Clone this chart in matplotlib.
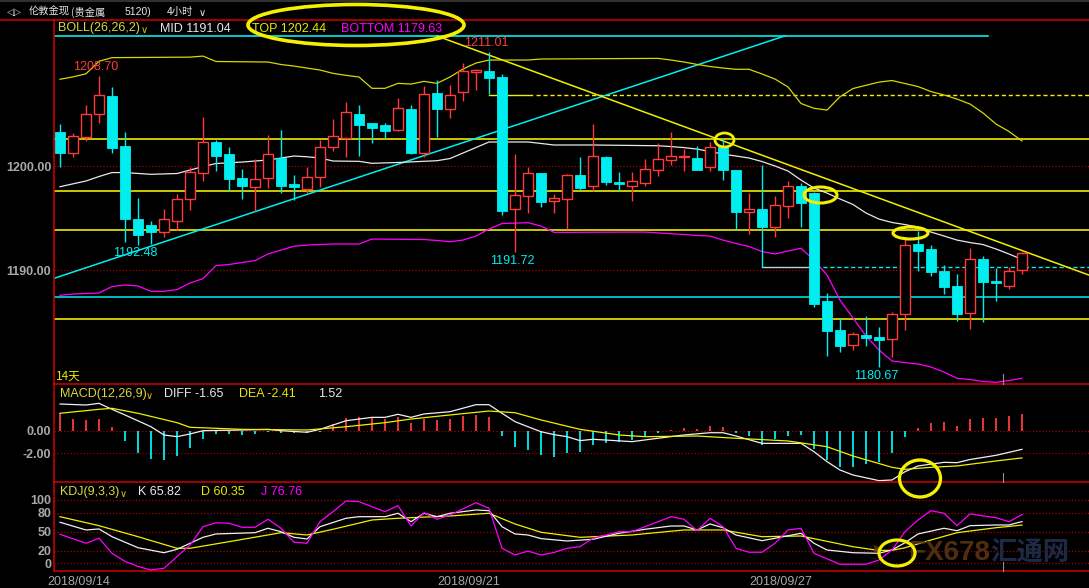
import numpy as np
import matplotlib.pyplot as plt
from matplotlib.patches import Ellipse
from matplotlib.lines import Line2D

plt.rcParams['font.family'] = ['Liberation Sans', 'DejaVu Sans']

# ---------------- data ----------------
# 4h candles, 2018/09/14 .. 2018/10/02
opens = [1203.30, 1201.25, 1202.85, 1205.00, 1206.76, 1201.95, 1194.93, 1194.36, 1193.71, 1194.77,
         1196.83, 1199.33, 1202.31, 1201.15, 1198.88, 1198.04, 1198.85, 1200.80, 1198.30, 1197.85,
         1198.94, 1201.88, 1202.75, 1205.03, 1204.16, 1203.97, 1203.52, 1205.51, 1201.31, 1207.05,
         1205.51, 1207.17, 1209.07, 1209.16, 1208.59, 1195.87, 1197.12, 1199.36, 1196.63, 1196.83,
         1199.16, 1198.08, 1200.89, 1198.49, 1198.13, 1198.42, 1199.67, 1200.63, 1200.92, 1200.80,
         1199.96, 1201.88, 1199.64, 1195.63, 1195.89, 1194.19, 1196.21, 1198.11, 1197.40, 1187.05,
         1184.26, 1182.82, 1183.78, 1183.59, 1183.42, 1185.77, 1192.53, 1192.05, 1189.93, 1188.49,
         1185.87, 1191.09, 1189.02, 1188.52, 1190.03]
highs = [1204.07, 1203.17, 1205.89, 1208.70, 1207.60, 1203.30, 1196.95, 1194.74, 1195.89, 1197.34,
         1199.96, 1204.71, 1202.53, 1201.83, 1199.71, 1200.67, 1202.98, 1203.49, 1199.16, 1199.90,
         1202.53, 1204.55, 1206.18, 1205.89, 1204.20, 1204.16, 1206.54, 1205.89, 1207.75, 1208.30,
         1207.82, 1209.93, 1209.33, 1211.01, 1208.88, 1201.18, 1199.96, 1199.40, 1197.31, 1199.23,
         1200.89, 1204.04, 1200.99, 1199.42, 1199.42, 1200.67, 1202.21, 1203.27, 1201.63, 1201.92,
         1202.31, 1202.60, 1199.64, 1197.40, 1200.13, 1197.14, 1198.59, 1198.37, 1197.56, 1187.85,
         1185.44, 1184.10, 1185.60, 1184.55, 1185.99, 1193.20, 1193.81, 1192.43, 1190.51, 1189.64,
         1192.14, 1191.38, 1190.19, 1190.29, 1191.76]
lows = [1199.96, 1200.87, 1202.46, 1204.19, 1201.25, 1192.75, 1192.48, 1192.55, 1193.23, 1193.88,
        1195.80, 1198.62, 1199.58, 1197.63, 1196.83, 1195.67, 1197.94, 1197.46, 1196.76, 1197.46,
        1198.04, 1201.50, 1200.92, 1201.02, 1202.27, 1202.69, 1203.39, 1201.15, 1200.92, 1202.82,
        1204.64, 1206.28, 1207.34, 1206.95, 1195.32, 1191.72, 1195.48, 1196.06, 1195.48, 1194.00,
        1197.75, 1197.63, 1198.20, 1197.63, 1196.69, 1198.13, 1199.10, 1200.15, 1199.58, 1199.67,
        1199.58, 1198.71, 1194.00, 1193.52, 1190.35, 1193.23, 1195.00, 1194.19, 1186.50, 1181.76,
        1182.17, 1182.34, 1182.72, 1180.67, 1181.69, 1184.26, 1189.98, 1189.45, 1187.72, 1185.15,
        1184.38, 1185.06, 1187.08, 1188.17, 1189.60]
closes = [1201.31, 1202.88, 1205.00, 1206.83, 1201.79, 1194.93, 1193.42, 1193.71, 1194.90, 1196.83,
          1199.45, 1202.31, 1201.02, 1198.81, 1198.13, 1198.75, 1201.15, 1198.13, 1198.04, 1198.94,
          1201.83, 1202.88, 1205.22, 1203.97, 1203.68, 1203.42, 1205.58, 1201.25, 1206.95, 1205.51,
          1206.86, 1209.13, 1209.26, 1208.52, 1195.73, 1197.21, 1199.33, 1196.60, 1196.92, 1199.16,
          1197.94, 1200.96, 1198.52, 1198.27, 1198.56, 1199.71, 1200.67, 1200.96, 1200.96, 1199.67,
          1201.83, 1199.67, 1195.63, 1195.87, 1194.19, 1196.25, 1198.11, 1196.50, 1186.75, 1184.16,
          1182.72, 1183.88, 1183.52, 1183.33, 1185.80, 1192.40, 1191.88, 1189.87, 1188.42, 1185.83,
          1191.09, 1188.90, 1188.75, 1189.93, 1191.63]

# Bollinger bands (candle index, value)
boll_up_i = [0, 1, 2, 3, 4, 10, 11, 12, 16, 17, 18, 20, 21, 22, 23, 24, 25, 26, 27, 28, 29, 30, 31, 32, 33,
             36, 37, 46, 47, 48, 49, 50, 51, 52, 53, 54, 55, 56, 57, 58, 59, 60, 61, 62, 63, 64, 65, 66,
             67, 68, 69, 70, 71, 72, 73, 74]
boll_up_v = [1208.37, 1208.6, 1208.9, 1210.1, 1210.45, 1210.5, 1210.6, 1210.08, 1210.03, 1209.79, 1209.64,
             1209.26, 1208.94, 1208.75, 1208.59, 1207.5, 1207.5, 1207.98, 1207.91, 1208.17, 1207.98,
             1208.59, 1209.36, 1209.93, 1210.22, 1210.22, 1210.32, 1210.38, 1210.22, 1210.03, 1209.8,
             1209.6, 1209.45, 1209.33, 1209.33, 1208.88, 1208.39, 1207.63, 1206.04, 1205.58, 1205.41,
             1206.69, 1207.48, 1207.79, 1208.1, 1208.25, 1207.96, 1207.67, 1207.19, 1206.86, 1206.47,
             1205.99, 1205.13, 1204.07, 1203.35, 1202.44]
boll_mid_i = [0, 2, 3, 4, 5, 7, 9, 10, 11, 12, 14, 16, 17, 18, 19, 20, 21, 23, 24, 26, 29, 30, 31, 32, 33,
              36, 37, 38, 41, 46, 47, 48, 49, 50, 51, 52, 53, 54, 55, 56, 57, 58, 59, 60, 61, 62, 63, 64,
              65, 66, 67, 68, 69, 70, 71, 72, 73, 74]
boll_mid_v = [1198.04, 1198.59, 1199.02, 1199.40, 1199.40, 1199.23, 1199.31, 1199.64, 1199.98, 1200.27,
              1200.41, 1200.61, 1200.80, 1200.99, 1200.92, 1200.80, 1200.51, 1200.48, 1200.29, 1200.37,
              1200.54, 1200.75, 1201.28, 1201.81, 1202.34, 1202.34, 1202.20, 1202.05, 1202.05, 1201.98,
              1201.90, 1201.80, 1201.66, 1201.42, 1201.18, 1200.99, 1200.80, 1200.46, 1200.03, 1199.55,
              1198.68, 1197.91, 1197.43, 1196.86, 1196.33, 1195.51, 1194.93, 1194.60, 1194.40, 1194.16,
              1193.68, 1193.30, 1192.91, 1192.67, 1192.48, 1192.05, 1191.57, 1191.04]
boll_low_i = [0, 1, 3, 4, 5, 6, 7, 8, 9, 10, 11, 12, 13, 15, 16, 17, 18, 19, 21, 23, 24, 28, 29, 30, 31, 32,
              33, 34, 36, 37, 38, 45, 48, 49, 50, 51, 52, 53, 54, 55, 56, 57, 58, 59, 60, 61, 62, 63, 64,
              65, 66, 67, 68, 69, 70, 71, 72, 73, 74]
boll_low_v = [1187.60, 1187.72, 1187.82, 1188.44, 1188.59, 1188.49, 1187.98, 1187.98, 1188.15, 1188.78,
              1189.20, 1190.46, 1190.56, 1190.94, 1191.57, 1191.95, 1192.31, 1192.43, 1192.53, 1192.53,
              1193.01, 1192.96, 1192.87, 1192.75, 1192.91, 1193.30, 1193.97, 1194.50, 1194.58, 1194.26,
              1193.65, 1193.68, 1193.44, 1193.35, 1193.30, 1192.91, 1192.58, 1192.29, 1191.81, 1191.57,
              1191.86, 1192.12, 1190.99, 1189.55, 1187.14, 1185.41, 1183.68, 1182.34, 1181.28, 1181.13,
              1180.99, 1180.70, 1180.22, 1179.62, 1179.50, 1179.31, 1179.23, 1179.40, 1179.63]

# MACD(12,26,9)
macd_hist = [1.54, 1.03, 0.94, 1.03, 0.35, -0.88, -1.95, -2.48, -2.59, -2.24,
             -1.50, -0.71, -0.29, -0.29, -0.38, -0.29, -0.10, -0.18, -0.24, -0.18,
             -0.10, 0.59, 1.09, 1.18, 1.24, 1.00, 1.24, 0.65, 1.03, 0.94,
             1.03, 1.30, 1.39, 1.18, -0.44, -1.41, -1.71, -2.15, -2.30, -1.95,
             -1.86, -1.27, -1.06, -0.97, -0.82, -0.53, -0.18, 0.03, 0.20, 0.15,
             0.41, 0.32, -0.18, -0.47, -1.27, -0.77, -0.47, -0.38, -1.62, -2.59,
             -3.18, -3.18, -2.95, -2.74, -2.00, -0.53, 0.20, 0.65, 0.74, 0.44,
             1.03, 1.15, 1.15, 1.30, 1.52]
diff_i = [0, 2, 3, 4, 5, 7, 8, 9, 10, 11, 14, 16, 17, 19, 20, 21, 22, 24, 25, 26, 27, 28, 30, 32, 33, 34, 35,
          36, 37, 38, 39, 40, 41, 44, 46, 48, 50, 51, 52, 54, 56, 57, 58, 59, 60, 61, 63, 64, 65, 66, 68,
          69, 70, 72, 74]
diff_v = [2.36, 2.27, 2.42, 1.89, 1.39, 0.35, -0.38, -0.53, -0.29, 0.0, 0.06, 0.12, 0.0, -0.14, 0.12, 0.5,
          0.88, 1.18, 1.18, 1.45, 1.18, 1.48, 1.68, 2.3, 2.3, 1.54, 0.8, 0.35, -0.09, -0.35, -0.53, -0.88,
          -0.76, -0.97, -0.67, -0.38, -0.18, -0.18, -0.47, -1.12, -1.12, -1.12, -1.86, -2.74, -3.48,
          -3.92, -4.42, -4.36, -3.63, -3.12, -2.8, -2.83, -2.55, -2.18, -1.65]
dea_i = [0, 3, 4, 6, 9, 10, 14, 19, 22, 25, 27, 30, 33, 35, 37, 40, 43, 45, 49, 52, 56, 59, 61, 64, 65, 67,
         69, 72, 74]
dea_v = [1.54, 1.89, 1.98, 1.54, 0.71, 0.30, 0.12, 0.06, 0.35, 0.71, 1.03, 1.39, 1.74, 1.59, 0.95, 0.12,
         -0.38, -0.53, -0.47, -0.67, -0.91, -1.42, -2.24, -3.24, -3.42, -3.24, -3.12, -2.68, -2.41]

# KDJ(9,3,3)
k_i = [0, 2, 3, 4, 6, 8, 9, 11, 12, 15, 16, 17, 18, 19, 20, 22, 23, 25, 26, 27, 28, 29, 30, 32, 33, 34, 35,
       36, 37, 39, 41, 43, 45, 47, 48, 49, 50, 51, 52, 54, 55, 57, 58, 59, 61, 63, 64, 65, 66, 68, 69, 70,
       72, 73, 74]
k_v = [64.8, 52.6, 54.2, 42, 24.6, 16.7, 22.1, 41, 46.3, 48.3, 55.3, 49.9, 41, 38.4, 57.8, 71.1, 73.6,
       73.6, 79, 65.7, 79, 73.6, 79, 84.2, 83.1, 57.8, 46.3, 44.7, 39, 35.2, 37.9, 47.4, 53.7, 58.9, 58.9,
       52.6, 62.1, 56.2, 44.7, 35.7, 39.5, 47.4, 31.6, 21, 16.7, 15.8, 21, 32.5, 46.3, 55.3, 51.5, 59.4,
       60.5, 60.5, 65.82]
d_i = [0, 3, 6, 9, 10, 13, 17, 19, 21, 24, 26, 30, 33, 35, 37, 40, 44, 48, 51, 54, 57, 61, 63, 64, 65, 67,
       69, 72, 74]
d_v = [73.6, 59.4, 42, 23.7, 23.7, 34.1, 48.3, 44.7, 53.7, 68.4, 71.1, 74.7, 79, 62.1, 49, 41, 44.7, 52.6,
       52.6, 42, 43.1, 26.2, 20.2, 20.5, 24.5, 36.8, 48.3, 56.2, 60.35]
j_i = [0, 2, 3, 4, 5, 6, 7, 8, 9, 10, 11, 12, 13, 14, 15, 16, 17, 18, 19, 20, 21, 22, 23, 25, 26, 27, 28,
       29, 30, 32, 33, 34, 35, 36, 37, 38, 39, 40, 41, 43, 44, 47, 48, 49, 50, 51, 52, 53, 54, 55, 56, 57,
       58, 60, 62, 63, 64, 65, 66, 67, 68, 69, 70, 72, 73, 74]
j_v = [45.8, 31.6, 39.5, 15.8, 3, -5, -10.6, -7.9, 10.4, 28.9, 57.8, 64.1, 63.2, 56.9, 56.9, 69.5, 55.3,
       33.2, 31.6, 65.7, 81.5, 98.4, 97.3, 81.5, 91, 58.9, 79.9, 69.5, 76.3, 95.7, 86.9, 23.7, 13.1, 19.4,
       13.1, 17, 23.7, 26.2, 39.5, 49.9, 49.9, 73.6, 69.5, 51.5, 71.1, 57.8, 23.7, 17.4, 17.4, 31.6, 52.6,
       55.3, 15.8, -1.6, -1.6, 5.2, 21, 49.9, 68.4, 83.1, 79, 59.4, 77.9, 72, 65.7, 76.76]

# drawn levels / trend lines
yellow_levels = [1202.60, 1197.58, 1193.83, 1185.29]
cyan_levels = [1187.40]
top_cyan_level, top_cyan_end = 1212.56, 71.4
dash_yellow_level, dash_yellow_start = 1206.83, 33
dash_cyan_level, dash_cyan_start = 1190.29, 54
rise_line_i, rise_line_v = [-0.46, 55.8], [1189.23, 1212.56]
fall_line_i, fall_line_v = [29.0, 79.2], [1212.53, 1189.52]

date_labels = ['2018/09/14', '2018/09/21', '2018/09/27']
date_index = [0, 30, 54]
hi_marks = [3, 33]
lo_marks = [6, 35, 63]

# ---------------- figure ----------------
W, H = 1089, 588
RED = '#ff3a3a'
CYAN = '#00eef0'
FRAME = '#d40000'
GRID = '#a00000'
GREY = '#a8a8a8'
CJK = ['Noto Sans CJK SC', 'Liberation Sans', 'DejaVu Sans']

fig = plt.figure(figsize=(W / 100, H / 100), dpi=100, facecolor='black')


def rect(x0, y0, x1, y1):
    return [x0 / W, 1 - y1 / H, (x1 - x0) / W, (y1 - y0) / H]


def ftext(x, y, s, color, size=9, **kw):
    fig.text(x / W, 1 - y / H, s, color=color, fontsize=size, va='center', ha='left', **kw)


ax = fig.add_axes(rect(54, 20, 1089, 384))
axm = fig.add_axes(rect(54, 384, 1089, 482))
axk = fig.add_axes(rect(54, 482, 1089, 571))

xlim = (-6 / 13, 1029 / 13)
for a in (ax, axm, axk):
    a.set_facecolor('black')
    a.set_xlim(*xlim)
    a.set_xticks([])
    for s in a.spines.values():
        s.set_visible(False)
    a.spines['left'].set_visible(True)
    a.spines['left'].set_color(FRAME)
    a.spines['left'].set_linewidth(1.1)
    a.tick_params(axis='y', length=0, pad=2, labelcolor=GREY, labelsize=9)
for a in (axm, axk):
    a.spines['top'].set_visible(True)
    a.spines['top'].set_color(FRAME)
    a.spines['top'].set_linewidth(1.1)
axk.spines['bottom'].set_visible(True)
axk.spines['bottom'].set_color(FRAME)
axk.spines['bottom'].set_linewidth(1.1)

ax.set_ylim(1179.07, 1214.07)
axm.set_ylim(-4.54, 4.13)
axk.set_ylim(-12.2, 128.4)

dot = (0, (1, 1.6))
ax.set_yticks([1190, 1200], ['1190.00', '1200.00'], fontweight='bold')
axm.set_yticks([0, -2], ['0.00', '-2.00'], fontweight='bold')
axk.set_yticks([100, 80, 50, 20, 0], ['100', '80', '50', '20', '0'], fontweight='bold')
for v in (1190, 1200):
    ax.axhline(v, color=GRID, lw=0.9, ls=dot, zorder=1)
for v in (0, -2):
    axm.axhline(v, color=GRID, lw=0.9, ls=dot, zorder=1)
for v in (100, 80, 50, 20, 0):
    axk.axhline(v, color=GRID, lw=0.9, ls=dot, zorder=1)

# ---- main panel: levels and trend lines ----
for v in yellow_levels:
    ax.axhline(v, color='#ffff00', lw=1.1, zorder=2)
for v in cyan_levels:
    ax.axhline(v, color=CYAN, lw=1.1, zorder=2)
ax.plot([xlim[0], top_cyan_end], [top_cyan_level] * 2, color=CYAN, lw=1.2, zorder=2)
ax.plot([dash_yellow_start, dash_yellow_start + 3.3], [dash_yellow_level] * 2, color='#f0f000', lw=1, zorder=2)
ax.plot([dash_yellow_start + 3.6, xlim[1]], [dash_yellow_level] * 2, color='#f0f000', lw=1, ls=(0, (3, 2)), zorder=2)
ax.plot([dash_cyan_start, dash_cyan_start + 3.6], [dash_cyan_level] * 2, color='#b8d8d8', lw=1, zorder=2)
ax.plot([dash_cyan_start + 3.6, xlim[1]], [dash_cyan_level] * 2, color=CYAN, lw=1, ls=(0, (3, 2)), zorder=2)
ax.plot(rise_line_i, rise_line_v, color=CYAN, lw=1.1, zorder=2)
ax.plot(fall_line_i, fall_line_v, color='#f0f000', lw=1.1, zorder=2)

# ---- bollinger ----
ax.plot(boll_up_i, boll_up_v, color='#d8d800', lw=0.9, zorder=2)
ax.plot(boll_mid_i, boll_mid_v, color='#e8e8e8', lw=0.9, zorder=2)
ax.plot(boll_low_i, boll_low_v, color='#ff00ff', lw=0.9, zorder=2)

# ---- candles ----
o, h, l, c = map(np.array, (opens, highs, lows, closes))
x = np.arange(len(o))
up = c >= o
ax.vlines(x[up], l[up], h[up], color=RED, lw=1.0, zorder=3)
ax.vlines(x[~up], l[~up], h[~up], color=CYAN, lw=1.0, zorder=3)
ax.bar(x[up], c[up] - o[up], bottom=o[up], width=0.72, facecolor='black', edgecolor=RED, lw=1.0, zorder=4)
ax.bar(x[~up], o[~up] - c[~up], bottom=c[~up], width=0.8, color=CYAN, edgecolor=CYAN, lw=0.6, zorder=4)

for i in hi_marks:
    ax.annotate(f'{h[i]:.2f}', (i, h[i]), xytext=(-2.2, 6.2), textcoords='offset points',
                ha='center', va='center', color=RED, fontsize=9, zorder=6)
for i in lo_marks:
    ax.annotate(f'{l[i]:.2f}', (i, l[i]), xytext=(-2.2, -6.2), textcoords='offset points',
                ha='center', va='center', color=CYAN, fontsize=9, zorder=6)

# ---- MACD ----
hist = np.array(macd_hist)
axm.vlines(x[hist >= 0], 0, hist[hist >= 0], color=RED, lw=1.3, zorder=2)
axm.vlines(x[hist < 0], 0, hist[hist < 0], color=CYAN, lw=1.3, zorder=2)
axm.plot(diff_i, diff_v, color='#f0f0f0', lw=0.9, zorder=3)
axm.plot(dea_i, dea_v, color='#f0f000', lw=0.9, zorder=3)

# ---- KDJ ----
axk.plot(d_i, d_v, color='#f0f000', lw=0.9, zorder=3)
axk.plot(k_i, k_v, color='#f0f0f0', lw=0.9, zorder=3)
axk.plot(j_i, j_v, color='#ff00ff', lw=0.9, zorder=3)

# watermark
ftext(864, 553, '◔', '#6a3a12', size=22, alpha=0.8)
ftext(908, 553, 'FX678', '#5a3312', size=20, fontweight='bold', alpha=0.9)
ftext(990, 553, '汇通网', '#1c2a46', size=19, family=CJK, fontweight='bold')

for i, s in zip(date_index, date_labels):
    axk.text(i - 1, -0.12, s, transform=axk.get_xaxis_transform(), ha='left', va='center',
             color=GREY, fontsize=9)

# ---- frame lines ----
fig.add_artist(Line2D([0, 1], [1 - 20 / H] * 2, color=FRAME, lw=1.1))
fig.add_artist(Line2D([0, 1], [1 - 0.5 / H] * 2, color='#3a3a3a', lw=1.2))
for y0, y1 in ((374, 384), (473, 482), (562, 571)):
    fig.add_artist(Line2D([1003 / W] * 2, [1 - y0 / H, 1 - y1 / H], color='#909090', lw=0.8))

# ---- texts ----
ftext(7, 12, '◁▷', '#c8c8c8', size=7, family=['DejaVu Sans'])
ftext(29, 12, '伦敦金现', '#e6e6e6', size=7.4, family=CJK)
ftext(71, 12, '(贵金属', '#e6e6e6', size=7.4, family=CJK)
ftext(125, 12, '5120)', '#e6e6e6', size=7.5)
ftext(167, 12, '4小时', '#e6e6e6', size=7.4, family=CJK)
ftext(199, 13, '∨', '#e6e6e6', size=7, family=['DejaVu Sans'])

boll_col = '#d8d840'
ftext(58, 28.5, 'BOLL(26,26,2)', boll_col)
ftext(141, 30, '∨', '#e0c000', size=7, family=['DejaVu Sans'])
ftext(160, 28.5, f'MID {boll_mid_v[-1]:.2f}', '#e8e8e8')
ftext(252, 28.5, f'TOP {boll_up_v[-1]:.2f}', '#e8e800')
ftext(341, 28.5, f'BOTTOM {boll_low_v[-1]:.2f}', '#ff00ff')
ftext(56, 376, '14天', '#e8e800', size=8.5, family=CJK)

ftext(60, 394, 'MACD(12,26,9)', boll_col)
ftext(146, 396, '∨', '#e0c000', size=7, family=['DejaVu Sans'])
ftext(164, 394, f'DIFF {diff_v[-1]:.2f}', '#e8e8e8')
ftext(239, 394, f'DEA {dea_v[-1]:.2f}', '#e8e800')
ftext(318, 394, f'{macd_hist[-1]:.2f}', '#e8e8e8')

ftext(60, 492, 'KDJ(9,3,3)', boll_col)
ftext(120, 494, '∨', '#e0c000', size=7, family=['DejaVu Sans'])
ftext(138, 492, f'K {k_v[-1]:.2f}', '#e8e8e8')
ftext(201, 492, f'D {d_v[-1]:.2f}', '#e8e800')
ftext(261, 492, f'J {j_v[-1]:.2f}', '#ff00ff')

# ---- yellow highlight ellipses ----
for cx, cy, w, hh, lw in [(356, 25, 216, 41, 2.6), (724.5, 140, 19, 14, 2.0), (820.5, 195, 33, 16, 2.2),
                          (910.5, 233, 35, 12, 2.2), (920, 478.5, 41, 37, 2.4), (897, 553, 36, 26, 2.3)]:
    fig.add_artist(Ellipse((cx / 100, (H - cy) / 100), w / 100, hh / 100, transform=fig.dpi_scale_trans,
                           fill=False, ec='#f4f000', lw=lw, zorder=10))

fig.savefig('out.png', dpi=100, facecolor='black')
